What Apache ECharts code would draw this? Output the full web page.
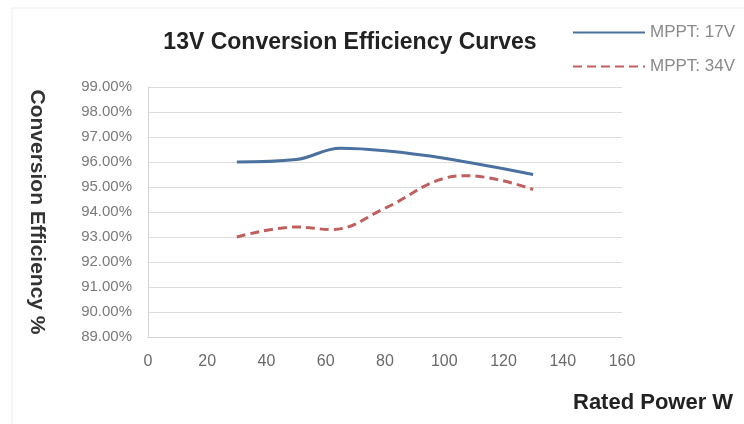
<!DOCTYPE html>
<html>
<head>
<meta charset="utf-8">
<script src="https://cdn.jsdelivr.net/npm/echarts@6/dist/echarts.min.js"></script>
<style>
html,body{margin:0;padding:0;background:#fff;}
#chart{width:744px;height:424px;}
</style>
</head>
<body>
<div id="chart"></div>
<script>
var titleText = '13V Conversion Efficiency Curves';
var seriesNames = ['MPPT: 17V', 'MPPT: 34V'];
var power17 = [30, 50, 65, 80, 100, 130];
var eff17 = [96.0, 96.1, 96.55, 96.45, 96.15, 95.5];
var power34 = [30, 50, 62, 80, 100, 108, 130];
var eff34 = [93.0, 93.4, 93.3, 94.15, 95.35, 95.45, 94.9];
var xTicks = [0, 20, 40, 60, 80, 100, 120, 140, 160];
var yTicks = [89, 90, 91, 92, 93, 94, 95, 96, 97, 98, 99];

function pairs(xs, ys) { return xs.map(function (x, i) { return [x, ys[i]]; }); }

var FONT = 'Liberation Sans, Arial, sans-serif';
var chart = echarts.init(document.getElementById('chart'));
chart.setOption({
  backgroundColor: '#fff',
  animation: false,
  textStyle: { fontFamily: FONT },
  title: {
    text: titleText,
    left: 345, top: 26, textAlign: 'center',
    textStyle: { fontSize: 23, fontWeight: 'bold', color: '#222', fontFamily: FONT }
  },
  legend: {
    orient: 'vertical', left: 567, top: 19, itemWidth: 72, itemHeight: 14, itemGap: 17,
    itemStyle: { opacity: 0 },
    textStyle: { color: '#8a8a8a', fontSize: 17 },
    data: seriesNames
  },
  grid: { left: 148, right: 122, top: 87, bottom: 87 },
  xAxis: {
    type: 'value', min: xTicks[0], max: xTicks[xTicks.length - 1], interval: 20,
    axisLine: { lineStyle: { color: '#d4d4d4' } },
    axisTick: { show: false },
    splitLine: { show: false },
    axisLabel: { color: '#6a6a6a', fontSize: 16, margin: 17 }
  },
  yAxis: {
    type: 'value', min: yTicks[0], max: yTicks[yTicks.length - 1], interval: 1,
    name: 'Conversion Efficiency %', nameLocation: 'middle', nameRotate: -90, nameGap: 101,
    nameTextStyle: { fontSize: 21, fontWeight: 'bold', color: '#333' },
    axisLine: { show: true, lineStyle: { color: '#d4d4d4' } },
    axisTick: { show: false },
    splitLine: { lineStyle: { color: '#dcdcdc', width: 1 } },
    axisLabel: { color: '#7a7a7a', fontSize: 15, margin: 16, formatter: function (v) { return v.toFixed(2) + '%'; } }
  },
  graphic: [
    { type: 'rect', shape: { x: 12, y: 8, width: 740, height: 420 }, style: { fill: 'none', stroke: '#ececec', lineWidth: 1 }, silent: true },
    { type: 'text', left: 573, top: 392, style: { text: 'Rated Power W', fontSize: 22, fontWeight: 'bold', fill: '#222', fontFamily: FONT } }
  ],
  series: [
    {
      name: seriesNames[0], type: 'line', smooth: 0.4, symbol: 'none',
      data: pairs(power17, eff17),
      lineStyle: { color: '#4a71a0', width: 3 },
      itemStyle: { color: '#4a71a0' }
    },
    {
      name: seriesNames[1], type: 'line', smooth: 0.4, symbol: 'none',
      data: pairs(power34, eff34),
      lineStyle: { color: '#c0605e', width: 3, type: [9, 5] },
      itemStyle: { color: '#c0605e' }
    }
  ]
});
</script>
</body>
</html>
